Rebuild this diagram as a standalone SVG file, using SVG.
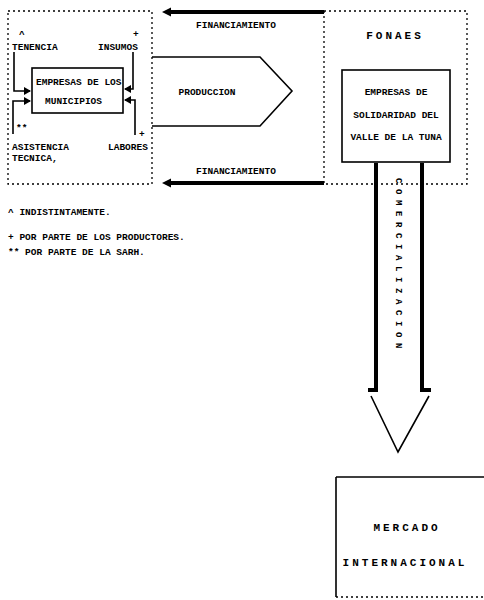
<svg xmlns="http://www.w3.org/2000/svg" width="484" height="600" viewBox="0 0 484 600">
<style>
text{font-family:"Liberation Mono","DejaVu Sans Mono",monospace;font-weight:bold;fill:#000}
.s{font-size:9.5px}
.b{font-size:11px;letter-spacing:3px}
.v{font-size:9px;letter-spacing:5.6px}
.dash{fill:none;stroke:#000;stroke-width:1.3;stroke-dasharray:2 3}
.solid{fill:none;stroke:#000;stroke-width:1.6}
.thick{fill:none;stroke:#000;stroke-width:4}
</style>
<defs>
<marker id="ah" markerWidth="10" markerHeight="10" refX="2" refY="5" orient="auto" markerUnits="userSpaceOnUse">
<path d="M0,5 L9,0.5 L9,9.5 z" transform="rotate(180 5 5)" fill="#000"/>
</marker>
<marker id="ahs" markerWidth="8" markerHeight="8" refX="6" refY="4" orient="auto" markerUnits="userSpaceOnUse">
<path d="M0,0 L7,4 L0,8 z" fill="#000"/>
</marker>
</defs>
<g id="municipios">
<rect class="dash" x="8" y="11" width="144" height="173"/>
<rect class="solid" x="32" y="68" width="91" height="45"/>
<text class="s" x="36" y="85">EMPRESAS DE LOS</text>
<text class="s" x="45" y="104">MUNICIPIOS</text>
<text class="s" x="19" y="37">^</text>
<text class="s" x="12" y="50">TENENCIA</text>
<text class="s" x="133" y="37">+</text>
<text class="s" x="98" y="50">INSUMOS</text>
<text class="s" x="16" y="131">**</text>
<text class="s" x="12" y="150">ASISTENCIA</text>
<text class="s" x="12" y="161">TECNICA,</text>
<text class="s" x="139" y="137">+</text>
<text class="s" x="108" y="150">LABORES</text>
</g>
<g id="fonaes">
<rect class="dash" x="324" y="11" width="143" height="173"/>
<text class="b" x="395" y="39" text-anchor="middle">FONAES</text>
<rect class="solid" x="342" y="70" width="108" height="92"/>
<text class="s" x="396" y="95" text-anchor="middle">EMPRESAS DE</text>
<text class="s" x="396" y="118" text-anchor="middle">SOLIDARIDAD DEL</text>
<text class="s" x="396" y="140" text-anchor="middle">VALLE DE LA TUNA</text>
</g>
<g id="produccion">
<path class="solid" d="M152,57 L260,57 L292,91 L260,126 L152,126"/>
<text class="s" x="207" y="95" text-anchor="middle">PRODUCCION</text>
</g>
<g id="mercado">
<path class="solid" d="M336,477 L484,477 M336,477 L336,597"/>
<path class="dash" d="M336,597 L484,597"/>
<text class="b" x="407" y="531" text-anchor="middle">MERCADO</text>
<text class="b" x="405" y="566" text-anchor="middle">INTERNACIONAL</text>
</g>
<g id="legend">
<text class="s" x="8" y="215">^ INDISTINTAMENTE.</text>
<text class="s" x="8" y="240">+ POR PARTE DE LOS PRODUCTORES.</text>
<text class="s" x="8" y="255">** POR PARTE DE LA SARH.</text>
</g>
<g id="connectors">
<path class="solid" d="M14,52 L14,91 L30,91" marker-end="url(#ahs)"/>
<path class="solid" d="M13,134 L13,101 L30,101" marker-end="url(#ahs)"/>
<path class="solid" d="M133,52 L133,89 L125,89" marker-end="url(#ahs)"/>
<path class="solid" d="M135,135 L135,100 L125,100" marker-end="url(#ahs)"/>
<path class="thick" d="M324,12 L170,12" marker-end="url(#ah)"/>
<text class="s" x="236" y="28" text-anchor="middle">FINANCIAMIENTO</text>
<path class="thick" d="M324,183 L170,183" marker-end="url(#ah)"/>
<text class="s" x="236" y="174" text-anchor="middle">FINANCIAMIENTO</text>
<path class="thick" d="M376,163 L376,390 L368,390"/>
<path class="thick" d="M422,163 L422,390 L431,390"/>
<path class="solid" d="M371,396 L398,452 L429,396"/>
<text class="v" x="396" y="178" transform="rotate(90 396 178)">COMERCIALIZACION</text>
</g>
</svg>
